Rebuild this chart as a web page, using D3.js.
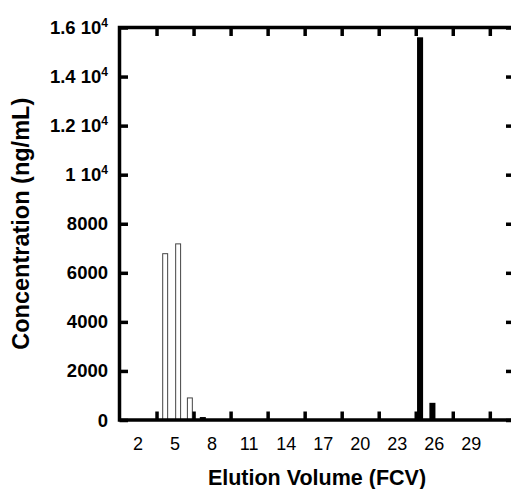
<!DOCTYPE html>
<html>
<head>
<meta charset="utf-8">
<script src="https://cdn.jsdelivr.net/npm/d3@7"></script>
<style>
    body { margin: 0; background: #fff; }
    svg { display: block; }
    text { font-family: "Liberation Sans", Arial, sans-serif; font-weight: bold; fill: #000; }
</style>
</head>
<body>
<svg id="chart" width="511" height="489"></svg>
<script>

// open bars (early fractions)
var openX = [4.2, 5.25, 6.2];
var openVal = [6800, 7200, 920];

// filled bars (late fractions)
var filledX = [7.25, 24.85, 25.85];
var filledVal = [120, 15600, 700];

var xLabels = [2, 5, 8, 11, 14, 17, 20, 23, 26, 29];
var xTickPos = [3.5, 6.5, 9.5, 12.5, 15.5, 18.5, 21.5, 24.5, 27.5, 30.5];
var yTicks = [0, 2000, 4000, 6000, 8000, 10000, 12000, 14000, 16000];
var yLabels = ["0", "2000", "4000", "6000", "8000", "1 10|4", "1.2 10|4", "1.4 10|4", "1.6 10|4"];

var draw = {

    plot: {left: 119.5, right: 514.5, top: 27.5, bottom: 420},

    index: function () {
        var p = draw.plot;
        var svg = d3.select("#chart");

        var x = d3.scaleLinear().domain([0.5, 32.5]).range([p.left, p.right]);
        var y = d3.scaleLinear().domain([0, 16000]).range([p.bottom, p.top]);
        var unit = x(1) - x(0);

        // bars
        svg.append("g").attr("class", "filled")
            .selectAll("rect")
            .data(filledX.map(function (d, i) { return {x: d, v: filledVal[i]}; }))
            .enter().append("rect")
            .attr("x", function (d) { return x(d.x) - unit * 0.245; })
            .attr("width", unit * 0.49)
            .attr("y", function (d) { return y(d.v); })
            .attr("height", function (d) { return y(0) - y(d.v); })
            .attr("fill", "#000");

        svg.append("g").attr("class", "open")
            .selectAll("rect")
            .data(openX.map(function (d, i) { return {x: d, v: openVal[i]}; }))
            .enter().append("rect")
            .attr("x", function (d) { return x(d.x) - unit * 0.2; })
            .attr("width", unit * 0.4)
            .attr("y", function (d) { return y(d.v) + 0.5; })
            .attr("height", function (d) { return y(0) - y(d.v); })
            .attr("fill", "#fff")
            .attr("stroke", "#444")
            .attr("stroke-width", 1);

        // ticks (inward, all four sides)
        var tk = 8.5;
        var axes = [
            {a: d3.axisBottom(x).tickValues(xTickPos), t: "translate(0," + p.bottom + ")"},
            {a: d3.axisTop(x).tickValues(xTickPos), t: "translate(0," + p.top + ")"},
            {a: d3.axisLeft(y).tickValues(yTicks), t: "translate(" + p.left + ",0)"},
            {a: d3.axisRight(y).tickValues(yTicks), t: "translate(" + p.right + ",0)"}
        ];
        axes.forEach(function (o) {
            var g = svg.append("g")
                .attr("transform", o.t)
                .call(o.a.tickSize(-tk).tickSizeOuter(0).tickFormat(""));
            g.select(".domain").remove();
            g.selectAll(".tick line").attr("stroke", "#000").attr("stroke-width", 3.5);
        });

        // frame
        svg.append("rect")
            .attr("x", p.left).attr("y", p.top)
            .attr("width", p.right - p.left).attr("height", p.bottom - p.top)
            .attr("fill", "none").attr("stroke", "#000").attr("stroke-width", 3.5);

        // x labels
        svg.append("g").selectAll("text")
            .data(xLabels).enter().append("text")
            .attr("x", function (d) { return x(d); })
            .attr("y", 450)
            .attr("text-anchor", "middle")
            .style("font-size", "18px")
            .style("font-weight", "normal")
            .text(function (d) { return d; });

        // y labels
        var yl = svg.append("g").selectAll("text")
            .data(yTicks).enter().append("text")
            .attr("x", 108)
            .attr("y", function (d) { return y(d) + 6.5; })
            .attr("text-anchor", "end")
            .style("font-size", "18.5px");
        yl.each(function (d, i) {
            var parts = yLabels[i].split("|");
            var t = d3.select(this);
            t.append("tspan").text(parts[0]);
            if (parts.length > 1) {
                t.append("tspan").attr("dy", -7.5).style("font-size", "12px").text(parts[1]);
            }
        });

        // titles
        svg.append("text")
            .attr("x", (p.left + p.right) / 2)
            .attr("y", 485)
            .attr("text-anchor", "middle")
            .style("font-size", "21.5px")
            .text("Elution Volume (FCV)");

        svg.append("text")
            .attr("transform", "translate(29," + ((p.top + p.bottom) / 2) + ") rotate(-90)")
            .attr("text-anchor", "middle")
            .style("font-size", "23.5px")
            .text("Concentration (ng/mL)");
    }
};

draw.index();
</script>
</body>
</html>
